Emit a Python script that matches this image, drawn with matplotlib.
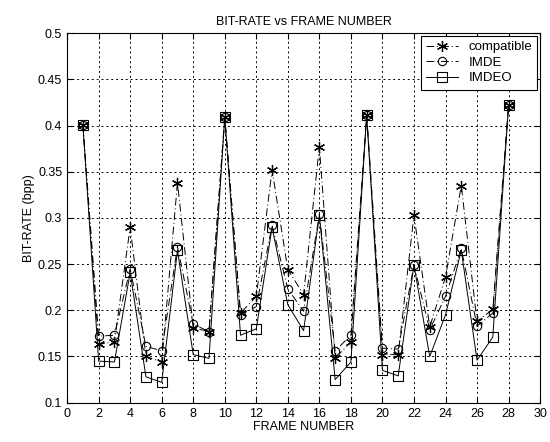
import numpy as np
import matplotlib
matplotlib.use('Agg')
import matplotlib.pyplot as plt

plt.rcParams['font.family'] = ['Liberation Sans', 'DejaVu Sans']

frames = np.arange(1, 29)

compatible = [0.401, 0.163, 0.166, 0.290, 0.150, 0.144, 0.338, 0.181, 0.177, 0.409,
              0.197, 0.215, 0.352, 0.244, 0.217, 0.377, 0.148, 0.166, 0.411, 0.152,
              0.152, 0.303, 0.182, 0.236, 0.335, 0.188, 0.201, 0.422]
imde = [0.401, 0.172, 0.173, 0.245, 0.161, 0.156, 0.269, 0.185, 0.177, 0.409,
        0.195, 0.204, 0.292, 0.223, 0.199, 0.304, 0.156, 0.173, 0.411, 0.159,
        0.158, 0.249, 0.179, 0.215, 0.267, 0.183, 0.197, 0.422]
imdeo = [0.401, 0.145, 0.144, 0.241, 0.128, 0.122, 0.265, 0.152, 0.148, 0.409,
         0.173, 0.180, 0.290, 0.206, 0.178, 0.303, 0.125, 0.144, 0.411, 0.135,
         0.129, 0.249, 0.150, 0.195, 0.265, 0.146, 0.171, 0.422]

fig = plt.figure(figsize=(5.5, 4.42), dpi=100)
ax = fig.add_axes([0.122, 0.089, 0.860, 0.836])

dashdot = (0, (8, 3, 1, 3))
ax.plot(frames, compatible, color='black', linestyle=dashdot, linewidth=0.7,
        marker=(6, 2, 0), markersize=8, markeredgewidth=0.9, label='compatible')
ax.plot(frames, imde, color='black', linestyle=dashdot, linewidth=0.7,
        marker='o', markersize=6, markerfacecolor='none', markeredgewidth=0.8,
        label='IMDE')
ax.plot(frames, imdeo, color='black', linestyle='-', linewidth=0.7,
        marker='s', markersize=6.5, markerfacecolor='none', markeredgewidth=0.8,
        label='IMDEO')

ax.set_xlim(0, 30)
ax.set_ylim(0.1, 0.5)
ax.set_xticks(np.arange(0, 31, 2))
ax.set_yticks(np.arange(0.1, 0.51, 0.05))
ax.set_yticklabels(['0.1', '0.15', '0.2', '0.25', '0.3', '0.35', '0.4', '0.45', '0.5'])
ax.tick_params(direction='in', top=True, right=True, labelsize=9, length=4)
ax.grid(True, color='black', linestyle=(0, (2, 3)), linewidth=0.7)

ax.set_title('BIT-RATE vs FRAME NUMBER', fontsize=9)
ax.set_xlabel('FRAME NUMBER', fontsize=9, labelpad=1)
ax.set_ylabel('BIT-RATE (bpp)', fontsize=9, labelpad=2)

leg = ax.legend(loc='upper right', fontsize=9.5, fancybox=False, framealpha=1,
                edgecolor='black', borderaxespad=0.2, handlelength=2.4,
                labelspacing=0.25, borderpad=0.4)
leg.get_frame().set_linewidth(0.8)

fig.savefig('out.png', dpi=100)
